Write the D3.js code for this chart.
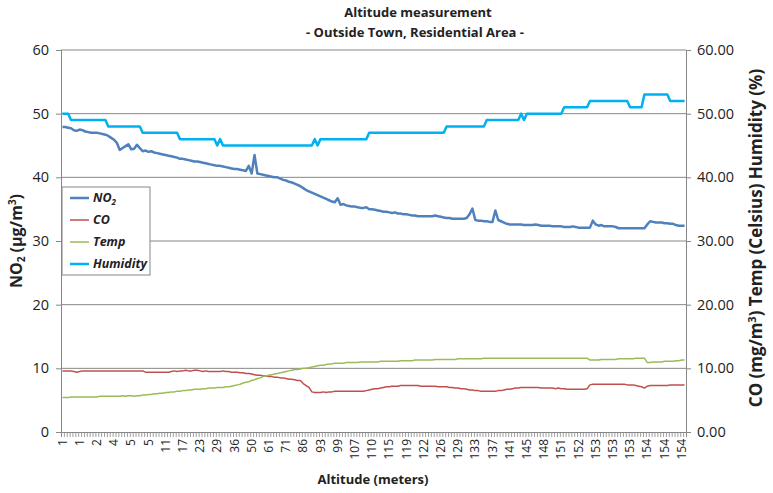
<!DOCTYPE html>
<html>
<head>
<meta charset="utf-8">
<script src="https://cdn.jsdelivr.net/npm/d3@7"></script>
<style>
  body { margin: 0; background: #fff; }
  text { font-family: "Open Sans", sans-serif; }
</style>
</head>
<body>
<div id="chart"></div>
<script>
// altitude tick labels (every 6th sample)
const altitudeLabels = [1, 1, 2, 4, 5, 5, 11, 17, 23, 29, 36, 50, 61, 71, 86, 93, 99, 107, 110, 115,
    119, 122, 126, 129, 133, 137, 141, 145, 148, 151, 152, 153, 153, 153, 154, 154, 154];
const labelStep = 6;

const no2 = [
    47.9, 47.9, 47.8, 47.7, 47.4, 47.3, 47.5, 47.4, 47.2, 47.1,
    47.0, 47.0, 47.0, 46.9, 46.8, 46.7, 46.5, 46.2, 45.9, 45.4,
    44.3, 44.6, 44.9, 45.2, 44.4, 44.5, 45.1, 44.6, 44.1, 44.2,
    44.0, 44.1, 43.9, 43.8, 43.7, 43.6, 43.5, 43.4, 43.3, 43.2,
    43.1, 42.9, 42.9, 42.8, 42.7, 42.6, 42.5, 42.5, 42.4, 42.3,
    42.2, 42.1, 42.0, 41.9, 41.8, 41.8, 41.7, 41.6, 41.5, 41.4,
    41.3, 41.3, 41.2, 41.1, 41.0, 41.8, 40.6, 43.5, 40.6, 40.5,
    40.4, 40.3, 40.2, 40.1, 40.0, 40.0, 39.8, 39.6, 39.5, 39.3,
    39.2, 39.0, 38.8, 38.6, 38.3, 38.0, 37.8, 37.6, 37.4, 37.2,
    37.0, 36.8, 36.6, 36.4, 36.2, 36.1, 36.7, 35.7, 35.8, 35.6,
    35.5, 35.4, 35.4, 35.3, 35.2, 35.2, 35.3, 35.0, 35.0, 34.9,
    34.8, 34.7, 34.6, 34.6, 34.5, 34.4, 34.5, 34.3, 34.3, 34.2,
    34.2, 34.1, 34.0, 34.0, 33.9, 33.9, 33.9, 33.9, 33.9, 33.9,
    34.0, 33.9, 33.8, 33.7, 33.6, 33.6, 33.5, 33.5, 33.5, 33.5,
    33.5, 33.6, 34.2, 35.1, 33.3, 33.2, 33.2, 33.1, 33.1, 33.0,
    33.0, 34.8, 33.3, 33.1, 32.9, 32.7, 32.6, 32.6, 32.6, 32.6,
    32.6, 32.5, 32.5, 32.5, 32.5, 32.6, 32.5, 32.4, 32.4, 32.4,
    32.4, 32.3, 32.3, 32.3, 32.3, 32.2, 32.2, 32.2, 32.3, 32.2,
    32.1, 32.1, 32.1, 32.1, 32.1, 33.2, 32.6, 32.4, 32.5, 32.3,
    32.3, 32.3, 32.3, 32.2, 32.0, 32.0, 32.0, 32.0, 32.0, 32.0,
    32.0, 32.0, 32.0, 32.0, 32.6, 33.1, 33.0, 32.9, 32.9, 32.9,
    32.8, 32.8, 32.7, 32.7, 32.5, 32.4, 32.4, 32.4
];

const co = [
    9.6, 9.6, 9.6, 9.6, 9.5, 9.4, 9.5, 9.6, 9.6, 9.6,
    9.6, 9.6, 9.6, 9.6, 9.6, 9.6, 9.6, 9.6, 9.6, 9.6,
    9.6, 9.6, 9.6, 9.6, 9.6, 9.6, 9.6, 9.6, 9.6, 9.4,
    9.4, 9.4, 9.4, 9.4, 9.4, 9.4, 9.4, 9.4, 9.5, 9.6,
    9.5, 9.6, 9.6, 9.7, 9.6, 9.6, 9.7, 9.7, 9.6, 9.5,
    9.6, 9.5, 9.5, 9.5, 9.5, 9.5, 9.6, 9.5, 9.5, 9.4,
    9.4, 9.4, 9.3, 9.3, 9.2, 9.2, 9.1, 9.0, 8.9, 8.9,
    8.8, 8.8, 8.7, 8.7, 8.6, 8.6, 8.5, 8.5, 8.4, 8.3,
    8.3, 8.2, 8.1, 8.1, 7.6, 7.3, 7.0, 6.3, 6.2, 6.2,
    6.2, 6.3, 6.2, 6.3, 6.3, 6.4, 6.4, 6.4, 6.4, 6.4,
    6.4, 6.4, 6.4, 6.4, 6.4, 6.4, 6.5, 6.6, 6.7, 6.8,
    6.8, 6.9, 7.0, 7.1, 7.1, 7.2, 7.2, 7.2, 7.3, 7.3,
    7.3, 7.3, 7.3, 7.3, 7.3, 7.2, 7.2, 7.2, 7.2, 7.2,
    7.2, 7.1, 7.1, 7.1, 7.1, 7.0, 7.0, 6.9, 6.9, 6.8,
    6.8, 6.7, 6.6, 6.6, 6.5, 6.5, 6.4, 6.4, 6.4, 6.4,
    6.4, 6.4, 6.5, 6.5, 6.6, 6.7, 6.7, 6.8, 6.9, 6.9,
    7.0, 7.0, 7.0, 7.0, 7.0, 7.0, 7.0, 6.9, 6.9, 6.9,
    6.9, 6.9, 6.8, 6.9, 6.8, 6.8, 6.7, 6.7, 6.7, 6.7,
    6.7, 6.7, 6.7, 6.8, 7.4, 7.5, 7.5, 7.5, 7.5, 7.5,
    7.5, 7.5, 7.5, 7.5, 7.5, 7.5, 7.5, 7.4, 7.4, 7.4,
    7.3, 7.2, 7.1, 6.9, 7.2, 7.3, 7.3, 7.3, 7.3, 7.3,
    7.3, 7.3, 7.4, 7.4, 7.4, 7.4, 7.4, 7.4
];

const temp = [
    5.4, 5.4, 5.4, 5.5, 5.5, 5.5, 5.5, 5.5, 5.5, 5.5,
    5.5, 5.5, 5.5, 5.6, 5.6, 5.6, 5.6, 5.6, 5.6, 5.6,
    5.6, 5.7, 5.6, 5.7, 5.7, 5.6, 5.7, 5.7, 5.8, 5.8,
    5.9, 5.9, 6.0, 6.0, 6.1, 6.1, 6.2, 6.2, 6.3, 6.3,
    6.4, 6.4, 6.5, 6.5, 6.6, 6.6, 6.7, 6.7, 6.7, 6.8,
    6.8, 6.9, 6.9, 6.9, 7.0, 7.0, 7.0, 7.1, 7.1, 7.2,
    7.3, 7.4, 7.5, 7.7, 7.8, 7.9, 8.1, 8.2, 8.4, 8.5,
    8.7, 8.8, 8.9, 9.0, 9.1, 9.2, 9.3, 9.4, 9.5, 9.6,
    9.7, 9.8, 9.8, 9.9, 10.0, 10.0, 10.1, 10.2, 10.3, 10.4,
    10.5, 10.5, 10.6, 10.7, 10.7, 10.8, 10.8, 10.8, 10.8, 10.9,
    10.9, 10.9, 10.9, 10.9, 11.0, 11.0, 11.0, 11.0, 11.0, 11.0,
    11.0, 11.1, 11.1, 11.1, 11.1, 11.1, 11.1, 11.1, 11.2, 11.2,
    11.2, 11.2, 11.2, 11.3, 11.3, 11.3, 11.3, 11.3, 11.3, 11.3,
    11.4, 11.4, 11.4, 11.4, 11.4, 11.4, 11.4, 11.4, 11.5, 11.5,
    11.5, 11.5, 11.5, 11.5, 11.5, 11.5, 11.5, 11.6, 11.6, 11.6,
    11.6, 11.6, 11.6, 11.6, 11.6, 11.6, 11.6, 11.6, 11.6, 11.6,
    11.6, 11.6, 11.6, 11.6, 11.6, 11.6, 11.6, 11.6, 11.6, 11.6,
    11.6, 11.6, 11.6, 11.6, 11.6, 11.6, 11.6, 11.6, 11.6, 11.6,
    11.6, 11.6, 11.6, 11.6, 11.3, 11.3, 11.3, 11.3, 11.4, 11.4,
    11.4, 11.4, 11.4, 11.4, 11.5, 11.5, 11.5, 11.5, 11.5, 11.5,
    11.6, 11.6, 11.6, 11.6, 10.9, 10.9, 11.0, 11.0, 11.0, 11.0,
    11.1, 11.1, 11.1, 11.1, 11.2, 11.2, 11.3, 11.3
];

const humidity = [
    50, 50, 50, 49, 49, 49, 49, 49, 49, 49,
    49, 49, 49, 49, 49, 49, 48, 48, 48, 48,
    48, 48, 48, 48, 48, 48, 48, 48, 47, 47,
    47, 47, 47, 47, 47, 47, 47, 47, 47, 47,
    47, 46, 46, 46, 46, 46, 46, 46, 46, 46,
    46, 46, 46, 46, 45, 46, 45, 45, 45, 45,
    45, 45, 45, 45, 45, 45, 45, 45, 45, 45,
    45, 45, 45, 45, 45, 45, 45, 45, 45, 45,
    45, 45, 45, 45, 45, 45, 45, 45, 46, 45,
    46, 46, 46, 46, 46, 46, 46, 46, 46, 46,
    46, 46, 46, 46, 46, 46, 46, 47, 47, 47,
    47, 47, 47, 47, 47, 47, 47, 47, 47, 47,
    47, 47, 47, 47, 47, 47, 47, 47, 47, 47,
    47, 47, 47, 47, 48, 48, 48, 48, 48, 48,
    48, 48, 48, 48, 48, 48, 48, 48, 49, 49,
    49, 49, 49, 49, 49, 49, 49, 49, 49, 49,
    50, 49, 50, 50, 50, 50, 50, 50, 50, 50,
    50, 50, 50, 50, 50, 51, 51, 51, 51, 51,
    51, 51, 51, 51, 52, 52, 52, 52, 52, 52,
    52, 52, 52, 52, 52, 52, 52, 52, 51, 51,
    51, 51, 51, 53, 53, 53, 53, 53, 53, 53,
    53, 53, 52, 52, 52, 52, 52, 52
];

const leftTicks = [0, 10, 20, 30, 40, 50, 60];
const rightTicks = [0, 10, 20, 30, 40, 50, 60];

function drawChart() {
    const W = 773, H = 493;
    const margin = { top: 50, right: 87, bottom: 61, left: 61 };
    const width = W - margin.left - margin.right,
        height = H - margin.top - margin.bottom;
    const n = no2.length;
    const gridColor = "#868686";

    const svg = d3.select("#chart")
        .append("svg")
        .attr("width", W)
        .attr("height", H);

    const g = svg.append("g")
        .attr("transform", `translate(${margin.left}, ${margin.top})`);

    const x = d3.scaleBand()
        .domain(d3.range(n))
        .range([0, width])
        .padding(0);

    const xEdge = d3.scaleLinear()
        .domain([0, n])
        .range([0, width]);

    const y = d3.scaleLinear()
        .domain([0, 60])
        .range([height, 0]);

    const yRight = d3.scaleLinear()
        .domain([0, 60])
        .range([height, 0]);

    // gridlines
    g.append("g")
        .selectAll("line")
        .data(leftTicks.slice(1))
        .join("line")
        .attr("x1", 0)
        .attr("x2", width)
        .attr("y1", d => y(d))
        .attr("y2", d => y(d))
        .attr("stroke", gridColor)
        .attr("stroke-width", 1);

    // left axis
    const leftAxis = g.append("g")
        .call(d3.axisLeft(y).tickValues(leftTicks).tickSize(5).tickPadding(7));
    leftAxis.select(".domain").attr("stroke", gridColor);
    leftAxis.selectAll(".tick line").attr("stroke", gridColor);
    leftAxis.selectAll("text")
        .style("font-size", "14.5px")
        .attr("fill", "#222");

    // right axis
    const rightAxis = g.append("g")
        .attr("transform", `translate(${width}, 0)`)
        .call(d3.axisRight(yRight).tickValues(rightTicks).tickSize(5).tickPadding(6)
            .tickFormat(d3.format(".2f")));
    rightAxis.select(".domain").attr("stroke", gridColor);
    rightAxis.selectAll(".tick line").attr("stroke", gridColor);
    rightAxis.selectAll("text")
        .style("font-size", "14.5px")
        .attr("fill", "#222");

    // x axis tick marks between categories
    const xTicks = g.append("g")
        .attr("transform", `translate(0, ${height})`)
        .call(d3.axisBottom(xEdge).tickValues(d3.range(n + 1)).tickSize(5).tickFormat(""));
    xTicks.select(".domain").attr("stroke", gridColor);
    xTicks.selectAll(".tick line").attr("stroke", gridColor).attr("stroke-width", 0.8);

    // x axis labels
    const labelIdx = altitudeLabels.map((d, i) => i * labelStep);
    const xLabels = g.append("g")
        .attr("transform", `translate(0, ${height})`)
        .call(d3.axisBottom(x).tickValues(labelIdx).tickSize(0)
            .tickFormat((d, i) => altitudeLabels[i]));
    xLabels.select(".domain").remove();
    xLabels.selectAll("text")
        .style("font-size", "12px")
        .attr("fill", "#222")
        .attr("text-anchor", "end")
        .attr("dy", "0.35em")
        .attr("transform", "translate(0, 7) rotate(-90)")
        .attr("x", 0)
        .attr("y", 0);

    const xc = i => x(i) + x.bandwidth() / 2;

    const series = [
        { name: "NO2", values: no2, color: "#4F81BD", width: 2.5, scale: y },
        { name: "CO", values: co, color: "#C0504D", width: 1.5, scale: yRight },
        { name: "Temp", values: temp, color: "#9BBB59", width: 1.5, scale: yRight },
        { name: "Humidity", values: humidity, color: "#00B0F0", width: 2.5, scale: yRight }
    ];

    series.forEach(s => {
        const line = d3.line()
            .x((d, i) => xc(i))
            .y(d => s.scale(d));
        g.append("path")
            .datum(s.values)
            .attr("fill", "none")
            .attr("stroke", s.color)
            .attr("stroke-width", s.width)
            .attr("stroke-linejoin", "round")
            .attr("d", line);
    });

    // legend
    const legend = svg.append("g")
        .attr("transform", "translate(62, 187)");
    legend.append("rect")
        .attr("width", 88)
        .attr("height", 88)
        .attr("fill", "#fff")
        .attr("stroke", gridColor)
        .attr("stroke-width", 1);

    const items = legend.selectAll(".item")
        .data(series)
        .join("g")
        .attr("class", "item")
        .attr("transform", (d, i) => `translate(0, ${11 + i * 22})`);
    items.append("line")
        .attr("x1", 8)
        .attr("x2", 27)
        .attr("stroke", d => d.color)
        .attr("stroke-width", d => d.width);
    const itemText = items.append("text")
        .attr("x", 31)
        .attr("dy", "0.35em")
        .style("font-size", "12.5px")
        .style("font-weight", "bold")
        .style("font-style", "italic")
        .attr("fill", "#222");
    itemText.filter(d => d.name === "NO2").each(function () {
        const t = d3.select(this);
        t.append("tspan").text("NO");
        t.append("tspan").text("2").style("font-size", "8px").attr("dy", "3");
    });
    itemText.filter(d => d.name !== "NO2").text(d => d.name);

    // titles
    svg.append("text")
        .attr("x", 418)
        .attr("y", 17)
        .attr("text-anchor", "middle")
        .style("font-size", "13px")
        .style("font-weight", "bold")
        .attr("fill", "#222")
        .text("Altitude measurement");

    svg.append("text")
        .attr("x", 415)
        .attr("y", 37)
        .attr("text-anchor", "middle")
        .style("font-size", "13px")
        .style("font-weight", "bold")
        .attr("fill", "#222")
        .text("- Outside Town, Residential Area -");

    svg.append("text")
        .attr("x", 373)
        .attr("y", 484)
        .attr("text-anchor", "middle")
        .style("font-size", "13px")
        .style("font-weight", "bold")
        .attr("fill", "#222")
        .text("Altitude (meters)");

    const leftTitle = svg.append("text")
        .attr("transform", "translate(22, 241) rotate(-90)")
        .attr("text-anchor", "middle")
        .style("font-size", "16px")
        .style("font-weight", "bold")
        .attr("fill", "#222");
    leftTitle.append("tspan").text("NO");
    leftTitle.append("tspan").text("2").style("font-size", "10px").attr("dy", "3");
    leftTitle.append("tspan").text(" (µg/m").attr("dy", "-3");
    leftTitle.append("tspan").text("3").style("font-size", "10px").attr("dy", "-6");
    leftTitle.append("tspan").text(")").attr("dy", "6");

    const rightTitle = svg.append("text")
        .attr("transform", "translate(762, 238) rotate(-90)")
        .attr("text-anchor", "middle")
        .style("font-size", "17px")
        .style("font-weight", "bold")
        .attr("fill", "#222");
    rightTitle.append("tspan").text("CO (mg/m");
    rightTitle.append("tspan").text("3").style("font-size", "11px").attr("dy", "-6");
    rightTitle.append("tspan").text(")  Temp (Celsius)  Humidity (%)").attr("dy", "6");
}

document.addEventListener("DOMContentLoaded", function () {
    drawChart();
});
</script>
</body>
</html>
